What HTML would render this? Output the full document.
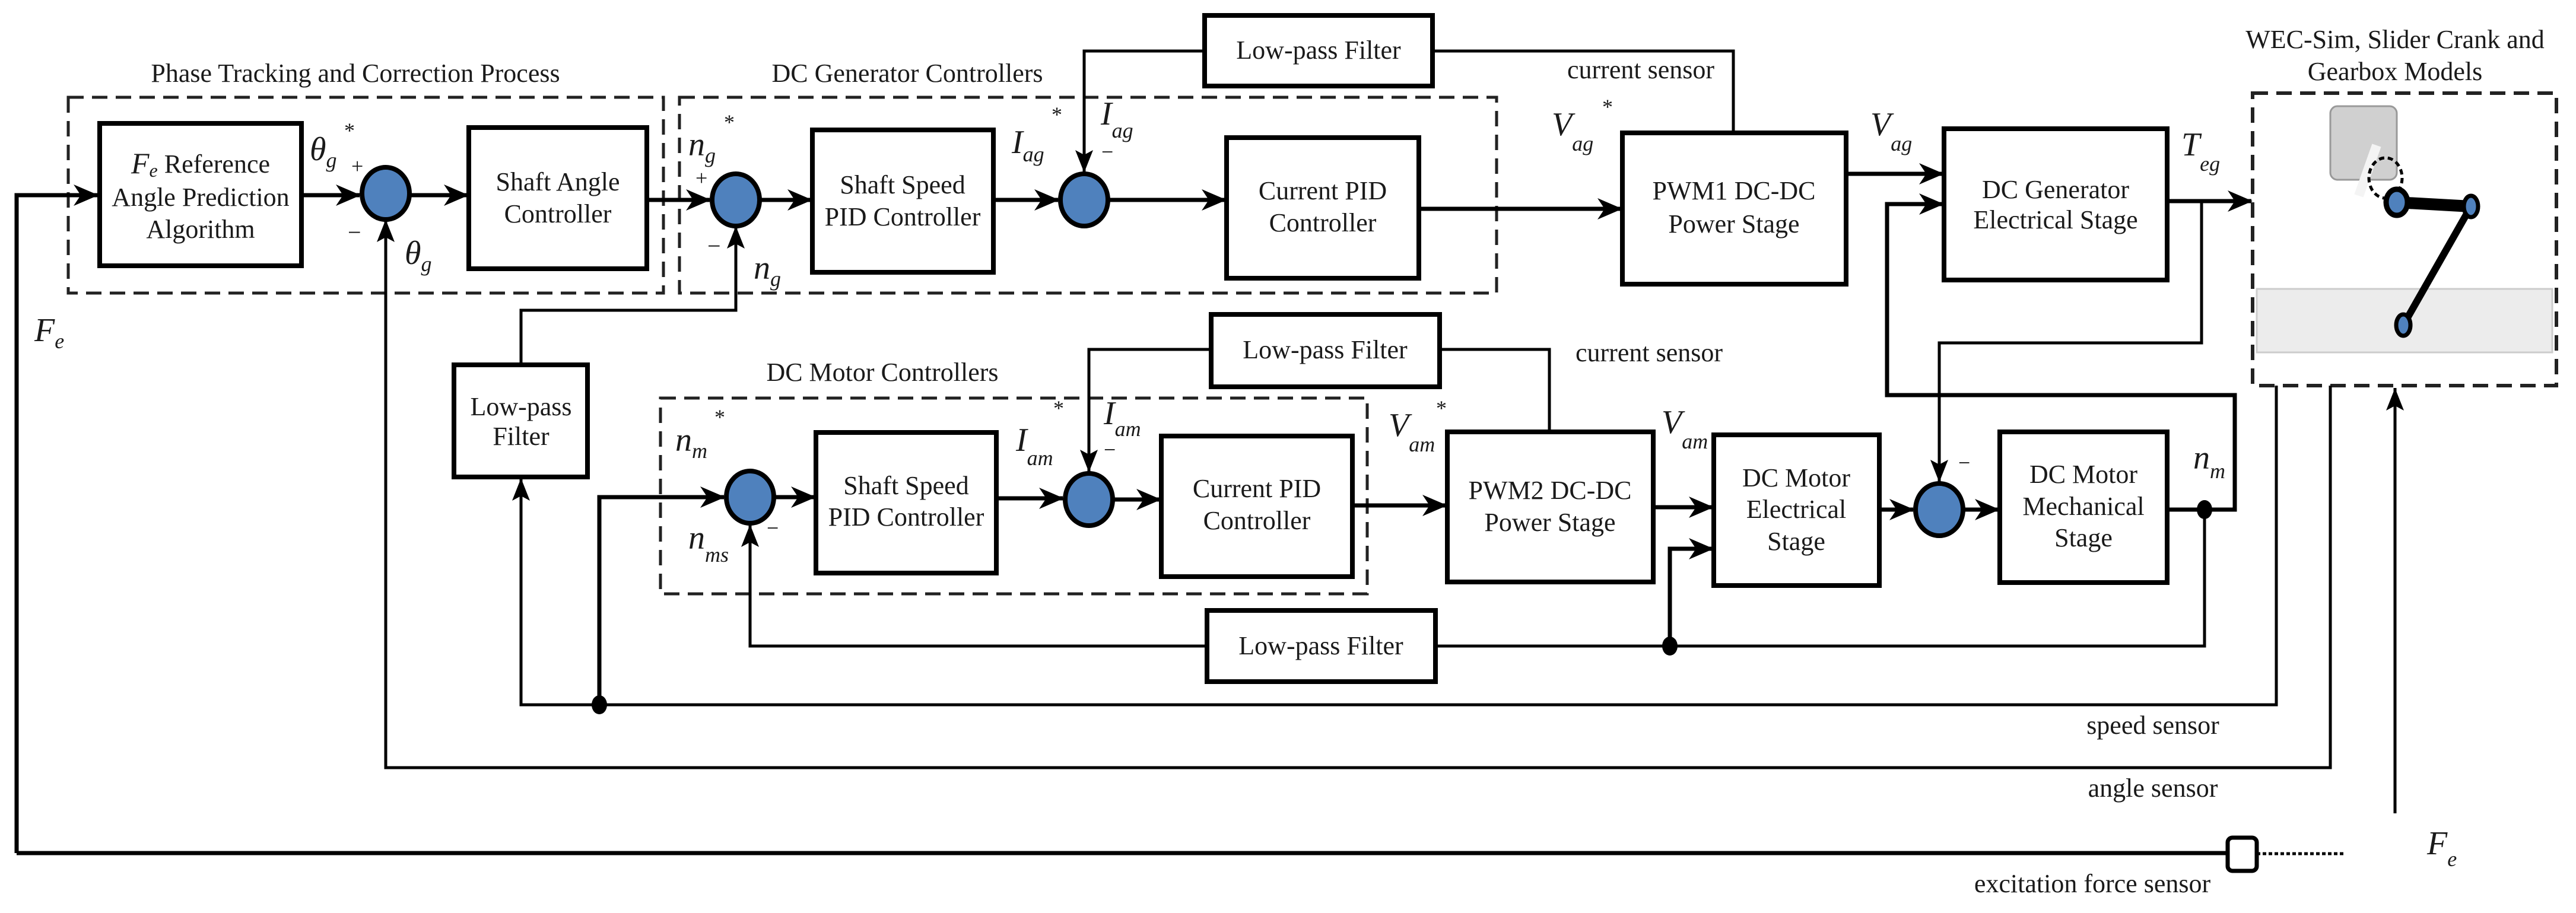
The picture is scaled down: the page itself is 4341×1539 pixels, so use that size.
<!DOCTYPE html>
<html><head><meta charset="utf-8"><style>
html,body{margin:0;padding:0;background:#fff}
svg{display:block}
.t{font-size:44px;text-anchor:middle;dominant-baseline:middle}
.m{font-size:56px;font-style:italic}
.s{font-size:36px;font-style:italic}
.l{fill:none;stroke:#000;stroke-width:7}
.f{fill:none;stroke:#000;stroke-width:5}
.b{fill:#fff;stroke:#000;stroke-width:8}
.d{fill:none;stroke:#222;stroke-width:5;stroke-dasharray:26 14}
.c{fill:#4f81bd;stroke:#000;stroke-width:8}
</style></head><body>
<svg width="4341" height="1539" viewBox="0 0 4341 1539" xmlns="http://www.w3.org/2000/svg" font-family="'Liberation Serif', 'DejaVu Serif', serif" fill="#1a1a1a">
<defs>
<marker id="a" markerUnits="userSpaceOnUse" markerWidth="44" markerHeight="40" refX="40" refY="20" orient="auto"><path d="M0,2 L42,20 L0,38 L12,20 Z" fill="#000"/></marker>
<marker id="o" markerUnits="userSpaceOnUse" markerWidth="40" markerHeight="34" refX="38" refY="17" orient="auto"><path d="M0,2 L38,17 L0,32 L8,17 Z" fill="#000"/></marker>
</defs>

<rect class="d" x="115" y="164" width="1003" height="330"/>
<rect class="d" x="1145" y="164" width="1377" height="330"/>
<rect class="d" x="1113" y="671" width="1191" height="330"/>
<rect class="d" x="3796" y="157" width="512" height="493" style="stroke-width:6"/>

<text class="t" x="599" y="128">Phase Tracking and Correction Process</text>
<text class="t" x="1529" y="128">DC Generator Controllers</text>
<text class="t" x="1487" y="632">DC Motor Controllers</text>
<text class="t" x="4036" y="71">WEC-Sim, Slider Crank and</text>
<text class="t" x="4036" y="125">Gearbox Models</text>

<polyline class="l" points="28,1438 28,329 164,329" marker-end="url(#a)"/>
<line class="l" x1="28" y1="1438" x2="3754" y2="1438"/>
<line stroke="#000" stroke-width="5" stroke-dasharray="6 4" x1="3803" y1="1439" x2="3949" y2="1439"/>
<line class="l" x1="508" y1="329" x2="606" y2="329" marker-end="url(#a)"/>
<line class="l" x1="692" y1="329" x2="788" y2="329" marker-end="url(#a)"/>
<line class="l" x1="1090" y1="337" x2="1196" y2="337" marker-end="url(#a)"/>
<line class="l" x1="1282" y1="337" x2="1367" y2="337" marker-end="url(#a)"/>
<line class="l" x1="1674" y1="337" x2="1783" y2="337" marker-end="url(#a)"/>
<line class="l" x1="1869" y1="337" x2="2065" y2="337" marker-end="url(#a)"/>
<line class="l" x1="2391" y1="352" x2="2732" y2="352" marker-end="url(#a)"/>
<line class="l" x1="3111" y1="293" x2="3274" y2="293" marker-end="url(#a)"/>
<polyline class="l" points="3652,859 3766,859 3766,666 3180,666 3180,344 3274,344" marker-end="url(#a)"/>
<line class="l" x1="3652" y1="339" x2="3794" y2="339" marker-end="url(#a)"/>
<polyline class="f" points="3710,339 3710,578 3268,578 3268,813" marker-end="url(#o)"/>
<polyline class="f" points="2414,86 2921,86 2921,224"/>
<polyline class="f" points="2030,86 1827,86 1827,291" marker-end="url(#o)"/>
<polyline class="f" points="3927,650 3927,1294 650,1294 650,370" marker-end="url(#o)"/>
<polyline class="f" points="3836,650 3836,1188 878,1188 878,806" marker-end="url(#o)"/>
<polyline class="l" points="1010,1188 1010,838 1220,838" marker-end="url(#a)"/>
<polyline class="f" points="878,615 878,523 1240,523 1240,381" marker-end="url(#o)"/>
<line class="l" x1="1306" y1="838" x2="1373" y2="838" marker-end="url(#a)"/>
<line class="l" x1="1679" y1="840" x2="1791" y2="840" marker-end="url(#a)"/>
<line class="l" x1="1877" y1="842" x2="1955" y2="842" marker-end="url(#a)"/>
<line class="l" x1="2279" y1="852" x2="2437" y2="852" marker-end="url(#a)"/>
<line class="l" x1="2786" y1="855" x2="2886" y2="855" marker-end="url(#a)"/>
<polyline class="l" points="2814,1089 2814,925 2886,925" marker-end="url(#a)"/>
<line class="l" x1="3167" y1="859" x2="3224" y2="859" marker-end="url(#a)"/>
<line class="l" x1="3310" y1="859" x2="3368" y2="859" marker-end="url(#a)"/>
<polyline class="f" points="3715,859 3715,1089 2419,1089"/>
<polyline class="f" points="2034,1089 1264,1089 1264,884" marker-end="url(#o)"/>
<polyline class="f" points="2426,589 2611,589 2611,728"/>
<polyline class="f" points="2041,589 1835,589 1835,796" marker-end="url(#o)"/>
<line class="f" x1="4036" y1="1371" x2="4036" y2="654" marker-end="url(#o)"/>

<ellipse cx="1010" cy="1188" rx="13" ry="16" fill="#000"/>
<ellipse cx="2814" cy="1089" rx="13" ry="16" fill="#000"/>
<ellipse cx="3715" cy="859" rx="13" ry="16" fill="#000"/>
<rect x="3754" y="1412" width="49" height="56" rx="8" fill="#fff" stroke="#000" stroke-width="7"/>

<ellipse class="c" cx="650" cy="326" rx="40" ry="44"/>
<ellipse class="c" cx="1240" cy="337" rx="40" ry="44"/>
<ellipse class="c" cx="1827" cy="337" rx="40" ry="44"/>
<ellipse class="c" cx="1264" cy="838" rx="40" ry="44"/>
<ellipse class="c" cx="1835" cy="842" rx="40" ry="44"/>
<ellipse class="c" cx="3268" cy="859" rx="40" ry="44"/>

<rect class="b" x="168" y="208" width="340" height="240"/>
<rect class="b" x="790" y="215" width="300" height="238"/>
<rect class="b" x="1369" y="219" width="305" height="240"/>
<rect class="b" x="2067" y="232" width="324" height="237"/>
<rect class="b" x="2030" y="26" width="384" height="119"/>
<rect class="b" x="2734" y="224" width="377" height="255"/>
<rect class="b" x="3276" y="217" width="376" height="255"/>
<rect class="b" x="765" y="615" width="225" height="189"/>
<rect class="b" x="1375" y="729" width="304" height="237"/>
<rect class="b" x="1957" y="735" width="322" height="237"/>
<rect class="b" x="2041" y="530" width="385" height="122"/>
<rect class="b" x="2034" y="1029" width="385" height="120"/>
<rect class="b" x="2439" y="728" width="347" height="253"/>
<rect class="b" x="2888" y="733" width="279" height="254"/>
<rect class="b" x="3370" y="728" width="282" height="254"/>

<text class="t" x="338" y="281"><tspan font-style="italic" font-size="50">F</tspan><tspan font-style="italic" font-size="32" dy="10">e</tspan><tspan dy="-10"> Reference</tspan></text>
<text class="t" x="338" y="337">Angle Prediction</text>
<text class="t" x="338" y="391">Algorithm</text>
<text class="t" x="940" y="311">Shaft Angle</text>
<text class="t" x="940" y="365">Controller</text>
<text class="t" x="1521" y="316">Shaft Speed</text>
<text class="t" x="1521" y="370">PID Controller</text>
<text class="t" x="2229" y="326">Current PID</text>
<text class="t" x="2229" y="380">Controller</text>
<text class="t" x="2222" y="89">Low-pass Filter</text>
<text class="t" x="2922" y="326">PWM1 DC-DC</text>
<text class="t" x="2922" y="382">Power Stage</text>
<text class="t" x="3464" y="324">DC Generator</text>
<text class="t" x="3464" y="375">Electrical Stage</text>
<text class="t" x="878" y="690">Low-pass</text>
<text class="t" x="878" y="740">Filter</text>
<text class="t" x="1527" y="823">Shaft Speed</text>
<text class="t" x="1527" y="876">PID Controller</text>
<text class="t" x="2118" y="828">Current PID</text>
<text class="t" x="2118" y="882">Controller</text>
<text class="t" x="2233" y="594">Low-pass Filter</text>
<text class="t" x="2226" y="1093">Low-pass Filter</text>
<text class="t" x="2612" y="831">PWM2 DC-DC</text>
<text class="t" x="2612" y="885">Power Stage</text>
<text class="t" x="3027" y="810">DC Motor</text>
<text class="t" x="3027" y="863">Electrical</text>
<text class="t" x="3027" y="917">Stage</text>
<text class="t" x="3511" y="804">DC Motor</text>
<text class="t" x="3511" y="858">Mechanical</text>
<text class="t" x="3511" y="911">Stage</text>

<text class="t" x="2765" y="122">current sensor</text>
<text class="t" x="2779" y="599">current sensor</text>
<text class="t" x="3628" y="1227">speed sensor</text>
<text class="t" x="3628" y="1333">angle sensor</text>
<text class="t" x="3526" y="1494">excitation force sensor</text>

<text class="m" x="58" y="575">F<tspan class="s" dy="12">e</tspan></text>
<text class="m" x="522" y="270">θ<tspan class="s" dy="12">g</tspan></text>
<text font-size="36" x="580" y="232">*</text>
<text font-size="36" x="592" y="292">+</text>
<text font-size="40" x="586" y="405">−</text>
<text class="m" x="682" y="445">θ<tspan class="s" dy="12">g</tspan></text>
<text class="m" x="1160" y="262">n<tspan class="s" dy="12">g</tspan></text>
<text font-size="36" x="1220" y="218">*</text>
<text font-size="36" x="1172" y="312">+</text>
<text font-size="40" x="1192" y="428">−</text>
<text class="m" x="1270" y="470">n<tspan class="s" dy="12">g</tspan></text>
<text class="m" x="1705" y="258">I<tspan class="s" dy="14">ag</tspan></text>
<text font-size="36" x="1772" y="205">*</text>
<text class="m" x="1855" y="210">I<tspan class="s" dy="22">ag</tspan></text>
<text font-size="36" x="1856" y="268">−</text>
<text class="m" x="2615" y="228">V<tspan class="s" dy="26">ag</tspan></text>
<text font-size="36" x="2700" y="192">*</text>
<text class="m" x="3152" y="228">V<tspan class="s" dy="26">ag</tspan></text>
<text class="m" x="3676" y="262">T<tspan class="s" dy="26">eg</tspan></text>
<text class="m" x="1138" y="760">n<tspan class="s" dy="12">m</tspan></text>
<text font-size="36" x="1204" y="715">*</text>
<text class="m" x="1160" y="925">n<tspan class="s" dy="22">ms</tspan></text>
<text font-size="36" x="1292" y="902">−</text>
<text class="m" x="1712" y="760">I<tspan class="s" dy="24">am</tspan></text>
<text font-size="36" x="1775" y="700">*</text>
<text class="m" x="1860" y="715">I<tspan class="s" dy="20">am</tspan></text>
<text font-size="36" x="1860" y="770">−</text>
<text class="m" x="2340" y="735">V<tspan class="s" dy="26">am</tspan></text>
<text font-size="36" x="2420" y="700">*</text>
<text class="m" x="2800" y="730">V<tspan class="s" dy="26">am</tspan></text>
<text font-size="36" x="3300" y="792">−</text>
<text class="m" x="3696" y="790">n<tspan class="s" dy="16">m</tspan></text>
<text class="m" x="4090" y="1440">F<tspan class="s" dy="20">e</tspan></text>

<rect x="3803" y="487" width="498" height="107" fill="#ececec" stroke="#ccc" stroke-width="3"/>
<rect x="3927" y="179" width="112" height="124" rx="12" fill="#d0d0d0" stroke="#999" stroke-width="3"/>
<line x1="4005" y1="245" x2="3975" y2="330" stroke="#f4f4f4" stroke-width="16"/>
<ellipse cx="4020" cy="300" rx="28" ry="34" fill="none" stroke="#000" stroke-width="5" stroke-dasharray="9 6"/>
<line x1="4039" y1="341" x2="4164" y2="348" stroke="#000" stroke-width="20"/>
<line x1="4164" y1="348" x2="4050" y2="548" stroke="#000" stroke-width="12"/>
<ellipse cx="4039" cy="341" rx="18" ry="22" fill="#4f81bd" stroke="#000" stroke-width="9"/>
<ellipse cx="4164" cy="348" rx="12" ry="18" fill="#4f81bd" stroke="#000" stroke-width="7"/>
<ellipse cx="4050" cy="548" rx="12" ry="18" fill="#4f81bd" stroke="#000" stroke-width="7"/>
</svg>
</body></html>
